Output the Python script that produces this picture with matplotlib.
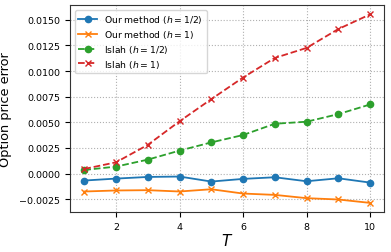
import matplotlib
matplotlib.use("Agg")
import matplotlib.pyplot as plt
import numpy as np

T = np.arange(1, 11)
ours_half = [-0.00068, -0.00049, -0.00033, -0.00029, -0.00078, -0.00052, -0.00036, -0.00075, -0.00046, -0.00088]
ours_one = [-0.00175, -0.00165, -0.00162, -0.00175, -0.00153, -0.00195, -0.00208, -0.00240, -0.00253, -0.00286]
islah_half = [0.00035, 0.00068, 0.00136, 0.00224, 0.00304, 0.00376, 0.00486, 0.00506, 0.00580, 0.00674]
islah_one = [0.00045, 0.00110, 0.00280, 0.00510, 0.00726, 0.00937, 0.01128, 0.01226, 0.01410, 0.01553]

fig = plt.figure(figsize=(3.91, 2.53), dpi=100)
ax = fig.add_subplot(111)
fig.subplots_adjust(left=70 / 391, right=384.3 / 391, top=1 - 6 / 253, bottom=1 - 213.3 / 253)

ax.plot(T, ours_half, '-o', color='tab:blue', ms=4.5, lw=1.3, label=r'Our method ($h=1/2$)')
ax.plot(T, ours_one, '-x', color='tab:orange', ms=4.5, lw=1.3, label=r'Our method ($h=1$)')
ax.plot(T, islah_half, '--o', color='tab:green', ms=4.5, lw=1.3, label=r'Islah ($h=1/2$)')
ax.plot(T, islah_one, '--x', color='tab:red', ms=4.5, lw=1.3, label=r'Islah ($h=1$)')

ax.set_yticks([-0.0025, 0.0, 0.0025, 0.005, 0.0075, 0.01, 0.0125, 0.015])
ax.set_xticks([2, 4, 6, 8, 10])
ax.tick_params(labelsize=6.8)
ax.grid(True, linestyle=':', color='#b0b0b0', lw=0.8)
ax.set_xlabel(r'$T$', fontsize=11, labelpad=1)
ax.set_ylabel('Option price error', fontsize=9.3, labelpad=5)
ax.legend(loc='upper left', fontsize=6.7, handlelength=2, borderpad=0.4, labelspacing=0.3)
for s in ax.spines.values():
    s.set_color('#333333')

fig.savefig('out.png', dpi=100)
